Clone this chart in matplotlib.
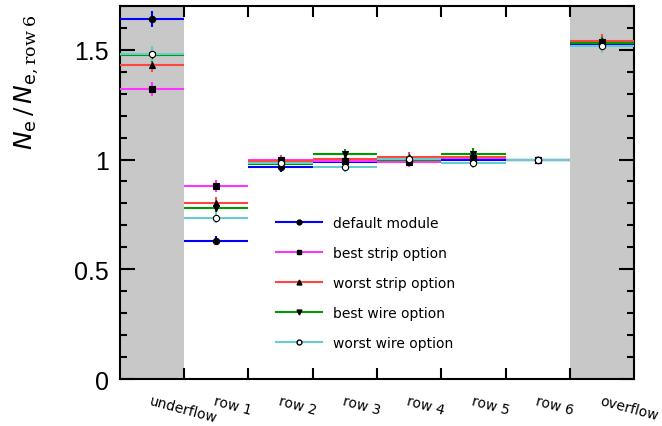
import matplotlib
matplotlib.use("Agg")
import matplotlib.pyplot as plt
from matplotlib.lines import Line2D
from matplotlib.ticker import MultipleLocator, FixedLocator, FuncFormatter

plt.rcParams["mathtext.fontset"] = "custom"
plt.rcParams["mathtext.rm"] = "DejaVu Serif"
plt.rcParams["mathtext.it"] = "DejaVu Sans:italic"
plt.rcParams["mathtext.sf"] = "DejaVu Sans"

# bins: underflow, row 1 .. row 6, overflow
bin_labels = ["underflow", "row 1", "row 2", "row 3", "row 4", "row 5", "row 6", "overflow"]

series_names = ["default module", "best strip option", "worst strip option",
                "best wire option", "worst wire option"]

# N_e / N_e,row6
default_module = [1.641, 0.630, 0.967, 0.990, 0.993, 0.999, 1.000, 1.525]
best_strip     = [1.323, 0.879, 0.997, 0.995, 0.990, 1.005, 1.000, 1.535]
worst_strip    = [1.432, 0.803, 0.993, 1.003, 1.012, 1.012, 1.000, 1.540]
best_wire      = [1.477, 0.780, 0.980, 1.023, 0.997, 1.027, 1.000, 1.530]
worst_wire     = [1.482, 0.735, 0.985, 0.967, 1.003, 0.986, 1.000, 1.517]

err_default     = [0.036, 0.020, 0.022, 0.022, 0.022, 0.022, 0.018, 0.030]
err_best_strip  = [0.032, 0.026, 0.024, 0.024, 0.024, 0.024, 0.018, 0.030]
err_worst_strip = [0.034, 0.024, 0.024, 0.024, 0.024, 0.024, 0.018, 0.030]
err_best_wire   = [0.034, 0.024, 0.024, 0.024, 0.024, 0.024, 0.018, 0.030]
err_worst_wire  = [0.034, 0.024, 0.024, 0.024, 0.024, 0.024, 0.018, 0.030]

values = [default_module, best_strip, worst_strip, best_wire, worst_wire]
errors = [err_default, err_best_strip, err_worst_strip, err_best_wire, err_worst_wire]
colors = ["#0000ff", "#ff33ff", "#ff4444", "#009900", "#66cccc"]
markers = ["o", "s", "^", "v", "o"]
faces = ["k", "k", "k", "k", "white"]

fig = plt.figure(figsize=(6.62, 4.27), dpi=100)
ax = fig.add_axes([0.181, 0.110, 0.777, 0.874])

n = len(bin_labels)
centers = [i + 0.5 for i in range(n)]

# grey under/overflow bins
ax.axvspan(0, 1, color="#c8c8c8", lw=0, zorder=0)
ax.axvspan(n - 1, n, color="#c8c8c8", lw=0, zorder=0)

for vals, errs, c, m, fc in zip(values, errors, colors, markers, faces):
    ax.errorbar(centers, vals, xerr=0.5, yerr=errs, fmt=m, color="k",
                mfc=fc, mec="k", ms=4.5, mew=0.8, ecolor=c, elinewidth=1.5,
                capsize=0, zorder=3)

ax.set_xlim(0, n)
ax.set_ylim(0, 1.7)

# bin edges as major ticks, labels on bin centres
ax.xaxis.set_major_locator(FixedLocator(list(range(1, n))))
ax.xaxis.set_major_formatter(FuncFormatter(lambda v, p: ""))
ax.set_xticks(centers, bin_labels, minor=True)
ax.tick_params(axis="x", which="minor", length=0, pad=10, labelsize=10)
plt.setp(ax.get_xticklabels(minor=True), rotation=-15, ha="left",
         va="top", rotation_mode="anchor")

ax.yaxis.set_major_locator(MultipleLocator(0.5))
ax.yaxis.set_minor_locator(MultipleLocator(0.1))
ax.yaxis.set_major_formatter(FuncFormatter(lambda v, p: "%g" % v))
ax.tick_params(axis="y", which="major", direction="in", length=11, width=1.5,
               labelsize=18, right=True, pad=8)
ax.tick_params(axis="y", which="minor", direction="in", length=5, width=1.5,
               right=True)
ax.tick_params(axis="x", which="major", direction="in", length=8, width=1.5,
               top=True)
for lab in ax.get_yticklabels():
    lab.set_family("Liberation Sans")

for s in ax.spines.values():
    s.set_linewidth(1.5)

ax.set_ylabel(r"$N_{\mathsf{e}}\,/\,N_{\mathsf{e},\mathrm{row\;6}}$", fontsize=18)
ax.yaxis.set_label_coords(-0.155, 0.98)
ax.yaxis.label.set_ha("right")

handles = [Line2D([], [], color=c, lw=1.5, marker=m, mfc=fc, mec="k", ms=3.5)
           for c, m, fc in zip(colors, markers, faces)]
ax.legend(handles, series_names, loc="upper left", bbox_to_anchor=(0.28, 0.47),
          frameon=False, fontsize=10, handlelength=3.3, labelspacing=1.15,
          handletextpad=0.8)

fig.savefig("out.png", dpi=100)
